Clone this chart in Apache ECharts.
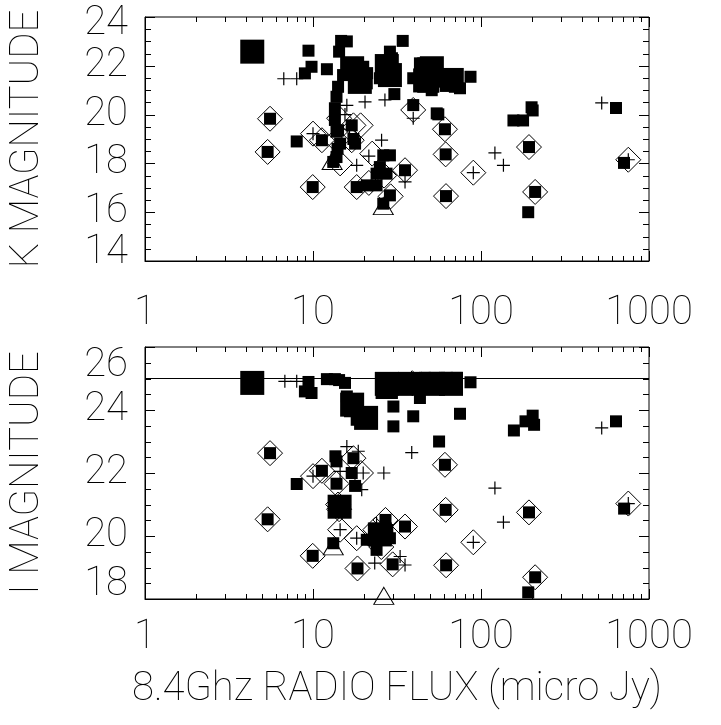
<!DOCTYPE html>
<html><head><meta charset="utf-8">
<script src="https://cdn.jsdelivr.net/npm/echarts@6/dist/echarts.min.js"></script>
<style>html,body{margin:0;padding:0;background:#fff}#c{width:721px;height:725px}</style>
</head><body><div id="c"></div>
<script>
// ---------- data (flux in micro Jy, magnitude) ----------
const xTickLabels = [1, 10, 100, 1000];
const kTicks = [14, 16, 18, 20, 22, 24];
const iTicks = [18, 20, 22, 24, 26];
const iLimit = 25;

const kBigSquares = [[4.35,22.58],[17.1,21.9],[19.0,21.34],[27.5,21.99],[28.7,21.62],[51,21.9],[67,21.42],[46.5,21.4]];
const kSquares = [
 [9.4,22.62],[9.8,21.96],[8.95,21.69],[12.1,21.86],
 [14.7,23.02],[15.9,23.0],[14.3,22.58],
 [34.2,23.02],[28.7,22.58],
 [25.6,22.17],[29.5,22.31],[28.2,21.83],[25.0,21.49],[30.1,21.55],
 [17.0,21.96],[19.9,21.96],[18.2,21.49],[20.9,21.28],[19.0,21.14],[17.5,21.7],[21.0,21.7],
 [15.1,21.62],[14.1,21.14],[13.8,20.73],[13.5,20.26],[13.5,19.78],[13.8,19.30],
 [30.5,20.84],[39.5,20.39],
 [43.3,22.1],[39.5,21.49],[48.5,21.62],[50.9,21.0],[45.3,21.14],[54.5,20.05],
 [45.3,22.1],[48.5,21.55],[53,21.76],[57,21.35],[64,21.42],[69.9,21.14],[75,21.08],[52,21.14],
 [86.6,21.55],
 [5.55,19.83],[5.37,18.47],[8.0,18.9],[11.3,18.95],[9.96,17.03],
 [14.1,19.36],[14.5,18.81],[13.8,18.26],[13.2,18.06],[14.0,18.6],
 [17.0,19.56],[17.4,19.0],[17.8,18.81],
 [26.2,18.33],[28.7,18.33],[23.9,17.58],[27.4,17.58],[25,17.85],
 [35.3,17.72],[18.2,17.03],[20.9,17.10],[23.9,17.10],
 [28.7,16.69],[26.2,16.35],
 [55.7,20.01],[61,19.4],[61.6,18.37],[61.9,16.66],
 [156,19.76],[178,19.76],[203,20.17],[200,20.3],
 [193,18.67],[210,16.83],[191,16.0],
 [636,20.27],[710,18.02]
];
const kDiamonds = [
 [5.55,19.83],[5.37,18.47],[10.0,19.22],[11.3,18.95],[9.96,17.03],
 [14.3,19.85],[17.4,19.56],[19.2,19.56],[13.8,18.95],[17.0,18.95],[14.5,18.0],
 [18.2,17.03],[21.5,17.2],[22.5,18.4],[26.5,17.5],[29,16.65],[35.3,17.72],[39.5,20.19],
 [61,19.4],[61.6,18.37],[61.9,16.66],[90,17.62],[193,18.67],[210,16.83],[753,18.15]
];
const kPlus = [
 [6.7,21.47],[8.0,21.47],[15.9,20.38],[20.4,20.52],[26.8,20.6],[10,19.22],[25.6,18.95],
 [18.2,17.92],[35.3,17.24],[39.5,19.85],[90,17.62],[121,18.43],[136,17.92],[523,20.48],
 [753,18.15],[16.5,19.4],[15.5,20.0],[21.5,18.3]
];
const kTriangles = [[13.0,18.1],[26.2,16.25]];

const iBigSquares = [[4.35,24.86],[27.5,24.83],[37.8,24.83],[51.8,24.83],[66.3,24.83],[17.1,24.17],[20.7,23.75],[14.4,20.93],[25,20.05]];
const iSquares = [
 [9.4,24.89],[8.95,24.59],[9.8,24.54],
 [12.1,24.98],[13.5,24.98],[15.5,24.86],[14.3,24.95],
 [15.9,24.43],[18.2,24.22],[16.6,23.96],[19.9,23.90],[20.4,23.64],[18.2,23.69],[17.5,24.1],[21,23.75],
 [25.6,24.86],[29.5,24.86],[25.6,24.54],[29.5,24.54],
 [30.1,24.11],[30.1,23.48],[39.5,23.80],[43.3,24.38],
 [33.0,24.97],[39.5,24.97],[45.3,24.97],[52,24.97],
 [46.3,25.02],[53,25.02],[62.7,25.02],[71.7,25.02],[46.3,24.70],[57,24.72],[68,24.70],
 [86.6,24.88],[75,23.88],[56.3,23.0],
 [61,22.26],[61.6,20.83],[62,19.07],
 [157,23.35],[184,23.64],[203,23.82],[207,23.53],
 [193,20.75],[210,18.69],[191,18.21],
 [636,23.64],[711,20.87],
 [5.55,22.63],[5.37,20.53],[8.0,21.65],[11.3,22.07],[9.96,19.37],
 [13.6,22.53],[13.8,22.37],[17.4,22.47],[17.0,22.0],[17.8,21.59],
 [13.8,21.66],[14.1,21.04],[14.1,20.83],[13.2,19.77],
 [27.0,20.51],[27.7,20.19],[22.9,19.88],[26.2,19.88],[28.7,19.93],[23.9,19.56],[20.9,19.88],
 [35.3,20.3],[18.4,18.97],[29.8,19.1]
];
const iDiamonds = [
 [5.55,22.63],[5.37,20.53],[10,21.9],[11.3,22.07],[9.96,19.37],[17.4,22.47],[19.3,22.0],
 [13.8,21.66],[14.1,21.0],[14.3,20.85],[14.5,20.2],[18.2,19.93],[18.4,18.97],[27,20.51],
 [23.5,20.2],[25.5,19.65],[29.8,19.1],[35.3,20.3],[39,24.85],[61,22.26],[61.6,20.83],
 [62,19.07],[90,19.8],[193,20.75],[210,18.69],[753,21.03]
];
const iPlus = [
 [6.8,24.91],[8.0,24.91],[15.9,22.84],[18.6,22.69],[10,21.9],[14.5,22.05],[19.9,22.0],
 [19.5,21.47],[26.4,22.0],[38.7,22.65],[14.5,20.2],[18.2,19.93],[23.9,20.4],[23.3,19.14],
 [33,19.35],[35.3,19.08],[90,19.8],[121,21.52],[136,20.44],[523,23.43],[753,21.03]
];
const iTriangles = [[13.2,19.67],[26.4,18.1]];

// ---------- styling ----------
const FONT = 'Roboto';
const FW = 100;
const FS = 40;
const INK = '#000';
const txt = {fontFamily: FONT, fontWeight: FW, fontSize: FS, color: INK};
const LINE = {show: true, onZero: false, lineStyle: {color: INK, width: 1}};

// tick positions (axis decoration): log decades with 2..9 minors, y every 0.5
function xTickValues() {
  const out = [];
  for (let i = 0; i < xTickLabels.length - 1; i++) {
    for (let k = 1; k <= 9; k++) out.push([xTickLabels[i] * k, k === 1 ? 1 : 0]);
  }
  out.push([xTickLabels[xTickLabels.length - 1], 1]);
  return out;
}
function yTickValues(ticks) {
  const out = [];
  const step = (ticks[1] - ticks[0]) / 4;
  for (let v = ticks[0]; v <= ticks[ticks.length - 1] + 1e-9; v += step) {
    out.push([v, Math.abs((v - ticks[0]) % (ticks[1] - ticks[0])) < 1e-9 ? 1 : 0]);
  }
  return out;
}

const chart = echarts.init(document.getElementById('c'));

function xAxis(g, labelMargin, name) {
  const a = {
    gridIndex: g, type: 'log', logBase: 10,
    min: xTickLabels[0], max: xTickLabels[xTickLabels.length - 1],
    position: 'bottom', axisLine: LINE, axisTick: {show: false}, minorTick: {show: false},
    splitLine: {show: false}, minorSplitLine: {show: false},
    axisLabel: Object.assign({show: true, margin: labelMargin, formatter: v => String(v),
      showMinLabel: true, showMaxLabel: true}, txt)
  };
  if (name) Object.assign(a, {name: name, nameLocation: 'middle', nameGap: 71, nameTextStyle: txt});
  return a;
}

function yAxis(g, ticks, name, padTop, padBot) {
  const mn = ticks[0], mx = ticks[ticks.length - 1];
  return {
    gridIndex: g, type: 'value', min: mn, max: mx, interval: ticks[1] - ticks[0],
    position: 'left', axisLine: LINE, axisTick: {show: false}, minorTick: {show: false},
    splitLine: {show: false}, minorSplitLine: {show: false},
    axisLabel: Object.assign({
      show: true, margin: 17, showMinLabel: true, showMaxLabel: true,
      formatter: v => v === mx ? '{t|' + v + '}' : (v === mn ? '{b|' + v + '}' : '{n|' + v + '}'),
      rich: {
        t: Object.assign({padding: [padTop, 0, 0, 0]}, txt),
        b: Object.assign({padding: [0, 0, padBot, 0]}, txt),
        n: Object.assign({}, txt)
      }
    }, txt),
    name: name, nameLocation: 'middle', nameGap: 97, nameTextStyle: txt
  };
}

function seg(x1, y1, x2, y2) {
  return {type: 'line', shape: {x1: x1, y1: y1, x2: x2, y2: y2},
    style: {stroke: INK, lineWidth: 1}};
}
function xTickSeries(ai, yMin) {
  return {
    type: 'custom', xAxisIndex: ai, yAxisIndex: ai, silent: true, z: 5, clip: false,
    data: xTickValues().map(t => [t[0], yMin, t[1]]),
    renderItem: function (params, api) {
      const cs = params.coordSys;
      const px = Math.round(api.coord([api.value(0), api.value(1)])[0]) + 0.5;
      const len = api.value(2) ? 10 : 5;
      const b = cs.y + cs.height, t = cs.y;
      return {type: 'group', children: [seg(px, b, px, b - len), seg(px, t, px, t + len)]};
    }
  };
}
function yTickSeries(ai, ticks) {
  return {
    type: 'custom', xAxisIndex: ai, yAxisIndex: ai, silent: true, z: 5, clip: false,
    data: yTickValues(ticks).map(t => [xTickLabels[0], t[0], t[1]]),
    renderItem: function (params, api) {
      const cs = params.coordSys;
      const py = Math.round(api.coord([api.value(0), api.value(1)])[1]) + 0.5;
      const len = api.value(2) ? 10 : 6;
      const l = cs.x, r = cs.x + cs.width;
      return {type: 'group', children: [seg(l, py, l + len, py), seg(r, py, r - len, py)]};
    }
  };
}

const hollow = {color: 'rgba(0,0,0,0)', borderColor: INK, borderWidth: 1, opacity: 1};
const solid = {color: INK, opacity: 1};
function panelSeries(ai, sq, big, dia, plus, tri, limit) {
  const s = [
    {type: 'scatter', xAxisIndex: ai, yAxisIndex: ai, data: dia, symbol: 'diamond',
     symbolSize: 25, itemStyle: hollow, z: 2},
    {type: 'scatter', xAxisIndex: ai, yAxisIndex: ai, data: sq, symbol: 'rect',
     symbolSize: 12, itemStyle: solid, z: 3},
    {type: 'scatter', xAxisIndex: ai, yAxisIndex: ai, data: big, symbol: 'rect',
     symbolSize: 24, itemStyle: solid, z: 3},
    {type: 'scatter', xAxisIndex: ai, yAxisIndex: ai, data: plus, symbol: 'path://M0,6H12M6,0V12',
     symbolSize: 13, itemStyle: {color: 'none', borderColor: INK, borderWidth: 1.2, opacity: 1}, z: 4},
    {type: 'scatter', xAxisIndex: ai, yAxisIndex: ai, data: tri, symbol: 'triangle',
     symbolSize: [20, 17], itemStyle: hollow, z: 4}
  ];
  if (limit != null) {
    s[1].markLine = {silent: true, symbol: 'none', label: {show: false},
      lineStyle: {color: INK, width: 1, type: 'solid', opacity: 1}, data: [{yAxis: limit}]};
  }
  return s;
}

const box = {show: true, borderColor: INK, borderWidth: 1, backgroundColor: 'rgba(0,0,0,0)'};

chart.setOption({
  animation: false,
  backgroundColor: '#fff',
  grid: [
    Object.assign({left: 145, top: 17, width: 504, height: 244}, box),
    Object.assign({left: 145, top: 347, width: 504, height: 252}, box)
  ],
  xAxis: [
    xAxis(0, 33, ''),
    xAxis(1, 19, '8.4Ghz RADIO FLUX (micro Jy)')
  ],
  yAxis: [
    yAxis(0, kTicks, 'K MAGNITUDE', 14, 16),
    yAxis(1, iTicks, 'I MAGNITUDE', 38, 28)
  ],
  series: [].concat(
    panelSeries(0, kSquares, kBigSquares, kDiamonds, kPlus, kTriangles, null),
    [xTickSeries(0, kTicks[0]), yTickSeries(0, kTicks)],
    panelSeries(1, iSquares, iBigSquares, iDiamonds, iPlus, iTriangles, iLimit),
    [xTickSeries(1, iTicks[0]), yTickSeries(1, iTicks)]
  )
});
</script>
</body></html>
